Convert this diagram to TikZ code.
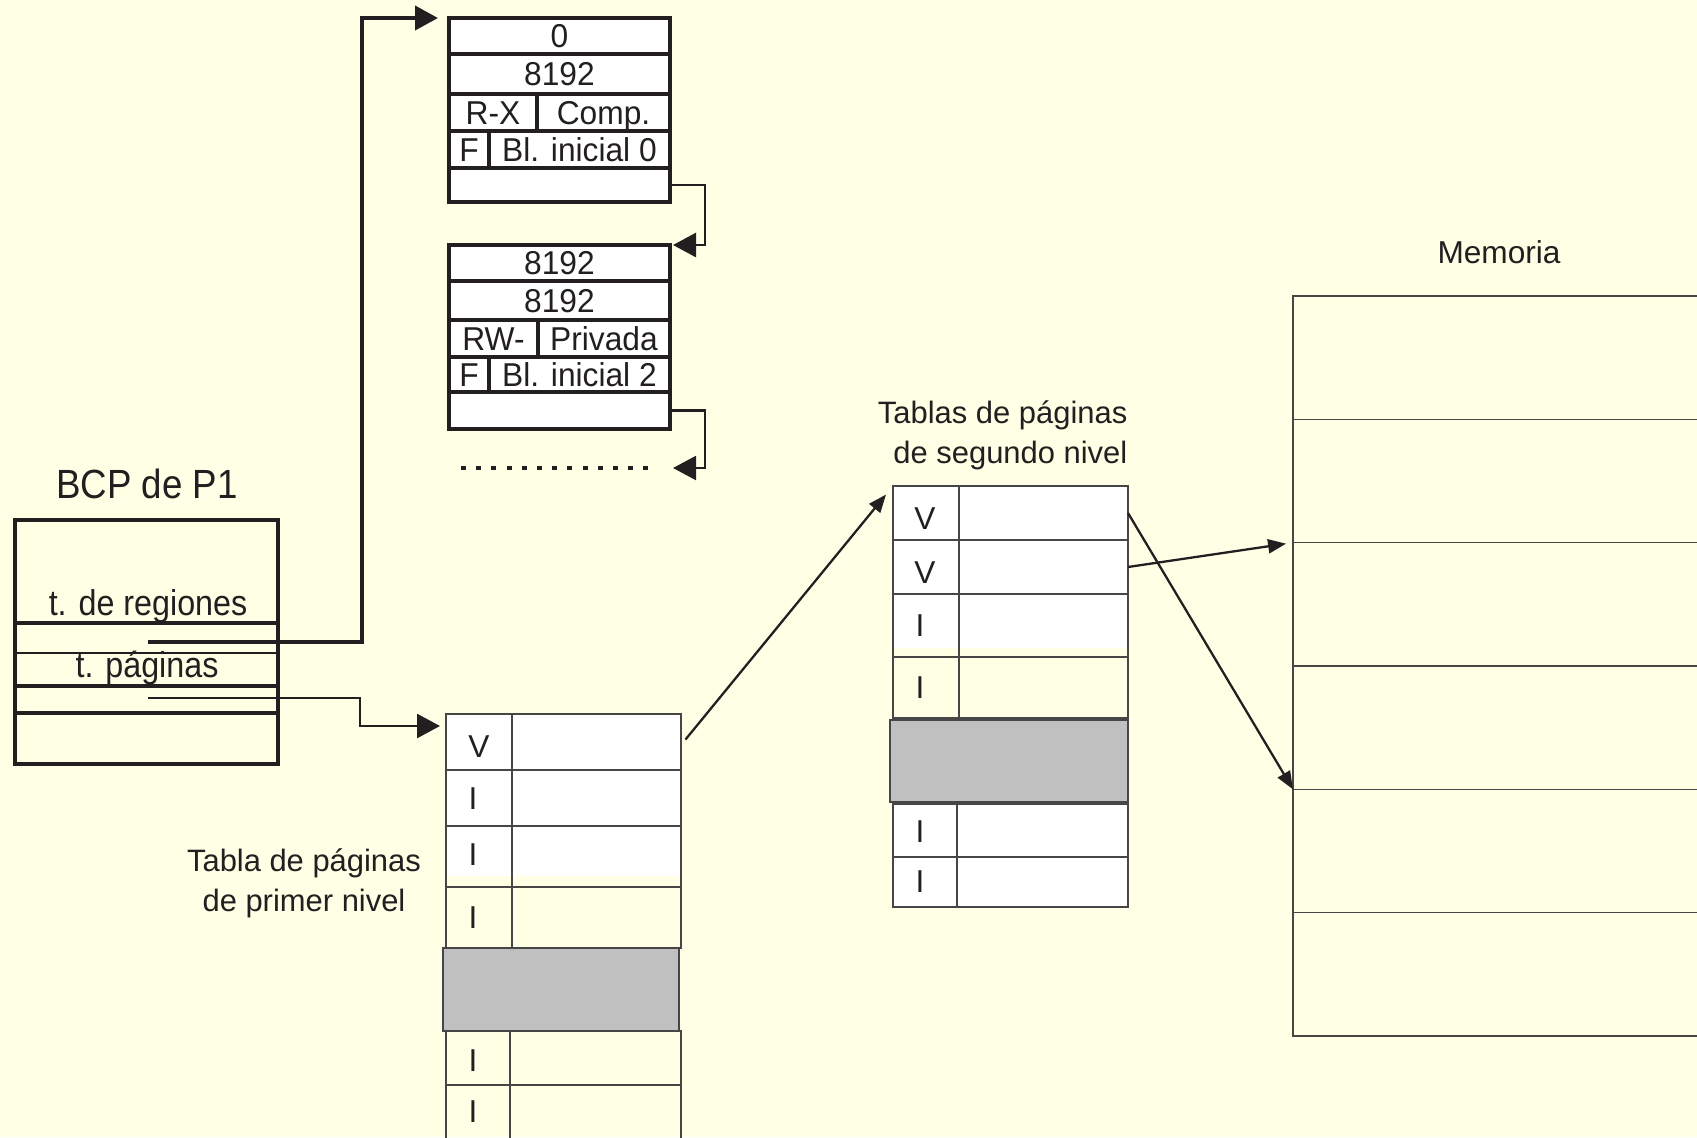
\documentclass[tikz,border=0pt]{standalone}
\usepackage{fontspec}
\setmainfont{Liberation Sans}
\newfontfamily\narrowsans[FakeStretch=0.9]{Liberation Sans}
\newfontfamily\cellsans[FakeStretch=0.96]{Liberation Sans}
\definecolor{paper}{RGB}{255,255,229}
\definecolor{ink}{RGB}{35,31,32}
\definecolor{rulegray}{RGB}{70,70,70}
\definecolor{blockgray}{RGB}{192,192,192}
\usetikzlibrary{arrows.meta, positioning}

\begin{document}
\begin{tikzpicture}[x=1cm, y=-1cm,
  regcell/.style={draw=ink, line width=1.1pt, fill=white, inner sep=0pt, outer sep=0pt, anchor=north west, text=ink, font=\cellsans\fontsize{9.4}{11}\selectfont, text height=8.0pt, text depth=1.2pt},
  prow/.style={draw=rulegray, line width=0.45pt, inner sep=0pt, outer sep=0pt, minimum width=2.35cm},
  flag/.style={inner sep=0pt, text=ink, font=\fontsize{9}{11}\selectfont},
  frame/.style={draw=rulegray, line width=0.45pt, inner sep=0pt, outer sep=0pt, minimum width=4.6cm, minimum height=1.2333cm},
  block/.style={draw=rulegray, fill=blockgray, line width=0.6pt, inner sep=0pt},
  tablabel/.style={inner sep=0pt, text=ink, font=\fontsize{8.8}{11.3}\selectfont},
  link/.style={draw=ink, line width=1.1pt, -{Triangle[length=2.3mm, width=2.4mm]}},
  ptr/.style={draw=ink, line width=0.65pt, -{Triangle[length=1.8mm, width=1.4mm]}}]
  \useasboundingbox (0,0) rectangle (16.97,11.37);
  \clip (0,0) rectangle (16.97,11.37);
  \fill[paper] (0,0) rectangle (16.97,11.37);

  % BCP of the process
  \node[text=ink, font=\narrowsans\fontsize{11.6}{14}\selectfont] (bcptitle) at (1.47,4.84) {BCP de P1};
  \node[draw=ink, line width=1.1pt, minimum width=2.63cm, minimum height=2.44cm, inner sep=0pt, outer sep=0pt] (bcp) at (1.465,6.42) {};
  \draw[ink, line width=1.1pt] (0.15,6.23) -- (2.80,6.23);
  \draw[ink, line width=0.8pt] (0.15,6.53) -- (2.78,6.53);
  \draw[ink, line width=1.1pt] (0.15,6.86) -- (2.78,6.86);
  \draw[ink, line width=1.1pt] (0.15,7.13) -- (2.78,7.13);
  \node[text=ink, font=\narrowsans\fontsize{10.2}{12}\selectfont] (rgtxt) at (1.48,6.06) {t. de regiones};
  \node[text=ink, font=\narrowsans\fontsize{10.2}{12}\selectfont] (pgtxt) at (1.47,6.68) {t. páginas};
  \coordinate (rgptr) at (1.48,6.42);
  \coordinate (ptptr) at (1.48,6.98);

  % Region table
  \node[regcell, minimum width=2.21cm, minimum height=0.36cm] (ra0) at (4.49,0.18) {0};
  \node[regcell, minimum width=2.21cm, minimum height=0.40cm] (ra1) at (4.49,0.54) {8192};
  \node[regcell, minimum width=0.88cm, minimum height=0.37cm] (ra2) at (4.49,0.94) {R-X};
  \node[regcell, minimum width=1.33cm, minimum height=0.37cm, right=0pt of ra2] (ra2p) {Comp.};
  \node[regcell, minimum width=0.40cm, minimum height=0.37cm] (ra3) at (4.49,1.31) {F};
  \node[regcell, minimum width=1.81cm, minimum height=0.37cm, right=0pt of ra3] (ra3p) {Bl. inicial 0};
  \node[regcell, minimum width=2.21cm, minimum height=0.34cm] (ra4) at (4.49,1.68) {};

  \node[regcell, minimum width=2.21cm, minimum height=0.36cm] (rb0) at (4.49,2.45) {8192};
  \node[regcell, minimum width=2.21cm, minimum height=0.39cm] (rb1) at (4.49,2.81) {8192};
  \node[regcell, minimum width=0.89cm, minimum height=0.37cm] (rb2) at (4.49,3.20) {RW-};
  \node[regcell, minimum width=1.32cm, minimum height=0.37cm, right=0pt of rb2] (rb2p) {Privada};
  \node[regcell, minimum width=0.40cm, minimum height=0.35cm] (rb3) at (4.49,3.57) {F};
  \node[regcell, minimum width=1.81cm, minimum height=0.35cm, right=0pt of rb3] (rb3p) {Bl. inicial 2};
  \node[regcell, minimum width=2.21cm, minimum height=0.37cm] (rb4) at (4.49,3.92) {};

  \draw[ink, line width=1.4pt, dash pattern=on 0.5mm off 1.02mm] (4.61,4.68) -- (6.48,4.68);
  \coordinate (dotsend) at (6.73,4.68);

  \draw[link, line width=0.8pt, shorten >=0.3mm] (ra4.east) -- ++(0.35,0) |- (rb0.north east);
  \draw[link, line width=0.6pt] (rb4.east) -- ++(0.35,0) |- (dotsend);
  \draw[link, shorten >=1.1mm] (rgptr) -- ++(2.14,0) |- (ra0.north west);
  \coordinate (pt1in) at (4.46,7.26);
  \draw[link, line width=0.8pt, shorten >=0.6mm] (ptptr) -- ++(2.12,0) |- (pt1in);

  % First-level page table
  \fill[white] (4.46,7.14) rectangle (6.81,8.76);
  \node[prow, minimum height=0.56cm] (p1a) at (5.635,7.42) {};
  \node[prow, minimum height=0.56cm] (p1b) at (5.635,7.98) {};
  \node[prow, minimum height=0.61cm] (p1c) at (5.635,8.565) {};
  \node[prow, minimum height=0.61cm] (p1d) at (5.635,9.175) {};
  \node[prow, minimum height=0.54cm] (p1e) at (5.635,10.58) {};
  \node[prow, minimum height=0.55cm] (p1f) at (5.635,11.125) {};
  \node[block, minimum width=2.36cm, minimum height=0.83cm] (g1) at (5.61,9.895) {};
  \draw[rulegray, line width=0.45pt] (5.12,7.14) -- (5.12,9.48);
  \draw[rulegray, line width=0.45pt] (5.10,10.31) -- (5.10,11.40);
  \node[flag] (f1a) at (4.79,7.47) {V};
  \node[flag] (f1b) at (4.73,7.99) {I};
  \node[flag] (f1c) at (4.73,8.55) {I};
  \node[flag] (f1d) at (4.73,9.18) {I};
  \node[flag] (f1e) at (4.73,10.61) {I};
  \node[flag] (f1f) at (4.73,11.12) {I};
  \node[tablabel, align=center] (lab1) at (3.04,8.83) {Tabla de páginas\\de primer nivel};

  % Second-level page tables
  \fill[white] (8.93,4.86) rectangle (11.28,6.48);
  \fill[white] (8.93,8.04) rectangle (11.28,9.07);
  \node[prow, minimum height=0.54cm] (p2a) at (10.105,5.13) {};
  \node[prow, minimum height=0.54cm] (p2b) at (10.105,5.67) {};
  \node[prow, minimum height=0.63cm] (p2c) at (10.105,6.255) {};
  \node[prow, minimum height=0.61cm] (p2d) at (10.105,6.875) {};
  \node[prow, minimum height=0.53cm] (p2e) at (10.105,8.305) {};
  \node[prow, minimum height=0.50cm] (p2f) at (10.105,8.82) {};
  \node[block, minimum width=2.38cm, minimum height=0.82cm] (g2) at (10.09,7.61) {};
  \draw[rulegray, line width=0.45pt] (9.59,4.86) -- (9.59,7.18);
  \draw[rulegray, line width=0.45pt] (9.57,8.04) -- (9.57,9.07);
  \node[flag] (f2a) at (9.25,5.19) {V};
  \node[flag] (f2b) at (9.25,5.73) {V};
  \node[flag] (f2c) at (9.20,6.26) {I};
  \node[flag] (f2d) at (9.20,6.88) {I};
  \node[flag] (f2e) at (9.20,8.32) {I};
  \node[flag] (f2f) at (9.20,8.82) {I};
  \node[tablabel, align=right, anchor=east] (lab2) at (11.28,4.355) {Tablas de páginas\\de segundo nivel};

  % Memory
  \node[text=ink, font=\fontsize{9}{11}\selectfont] (memtitle) at (14.99,2.52) {Memoria};
  \node[frame] (m1) at (15.23,3.577) {};
  \node[frame] (m2) at (15.23,4.810) {};
  \node[frame] (m3) at (15.23,6.043) {};
  \node[frame] (m4) at (15.23,7.277) {};
  \node[frame] (m5) at (15.23,8.510) {};
  \node[frame] (m6) at (15.23,9.743) {};

  \draw[ptr, shorten <=0.7mm, shorten >=1.1mm] ([yshift=-0.3mm]p1a.east) -- (p2a.north west);
  \draw[ptr] (p2a.east) -- (m5.north west);
  \draw[ptr, shorten >=0.7mm] (p2b.east) -- (m3.north west);
\end{tikzpicture}
\end{document}
